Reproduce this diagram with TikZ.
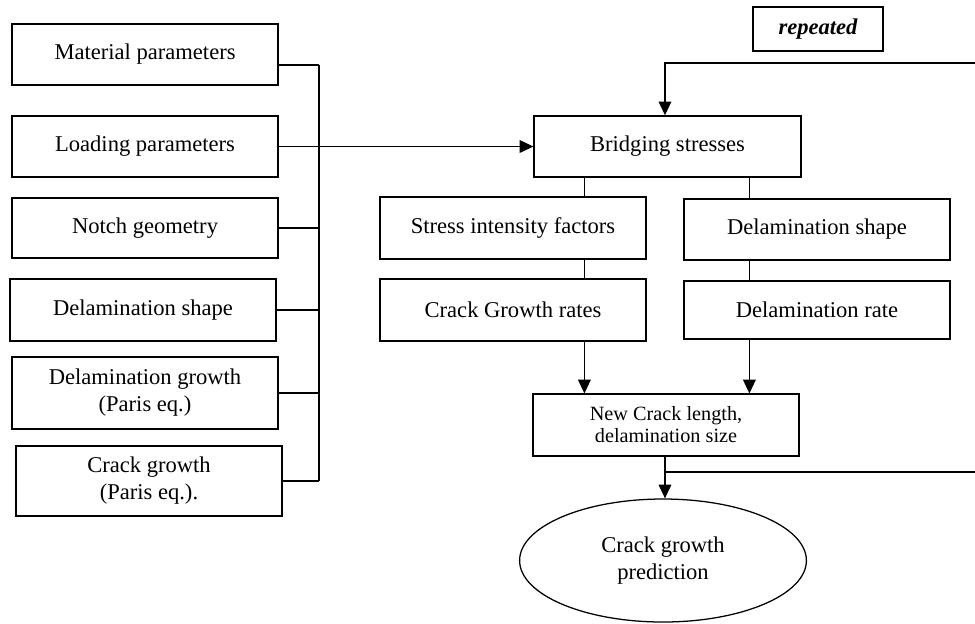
\documentclass[tikz,border=0pt]{standalone}
\usepackage{fontspec}
\setmainfont{Liberation Serif}
\usepackage{tikz}
\usetikzlibrary{arrows.meta,calc,shapes.geometric}

\begin{document}
\begin{tikzpicture}[>={Triangle[length=6.5pt,width=6pt]}, line width=0.6pt,
  font=\fontsize{10.7}{12.8}\selectfont,
  box/.style={draw, rectangle, minimum width=4.43cm, minimum height=1.02cm, inner sep=0pt, align=center}]
  \path[use as bounding box] (0,0) rectangle (16.25,-10.4);

  % Input parameters (left column)
  \foreach \name/\x/\y/\h/\txt in {
      mat/2.417/-0.908/1.02/{Material parameters},
      load/2.417/-2.442/1.02/{Loading parameters},
      notch/2.417/-3.8/1.0/{Notch geometry},
      dshape/2.383/-5.167/1.03/{Delamination shape},
      dgrowth/2.417/-6.55/1.2/{Delamination growth\\(Paris eq.)},
      cgrowth/2.483/-8.017/1.17/{Crack growth\\(Paris eq.).}} {
    \node[box, minimum height=\h cm] (\name) at (\x,\y) {\txt};
  }

  % Calculation steps
  \node[box, minimum width=4.45cm] (bridge) at (11.125,-2.442) {Bridging stresses};
  \node[box, minimum width=2.17cm, minimum height=0.73cm, font=\fontsize{10.7}{12.8}\selectfont\bfseries\itshape] (rep) at (13.633,-0.483) {repeated};
  \node[box, minimum height=1.03cm] (sif) at (8.55,-3.8) {Stress intensity factors};
  \node[box, minimum height=1.02cm] (dshapeR) at (13.617,-3.825) {Delamination shape};
  \node[box, minimum height=1.03cm] (cgrate) at (8.55,-5.167) {Crack Growth rates};
  \node[box, minimum height=0.97cm] (drate) at (13.617,-5.167) {Delamination rate};
  \node[box, minimum height=1.03cm, font=\fontsize{9.6}{10.5}\selectfont] (newlen) at (11.1,-7.083) {New Crack length,\\delamination size};
  \node[draw, ellipse, minimum width=4.78cm, minimum height=2.05cm, inner sep=0pt, align=center] (pred) at (11.05,-9.342) {Crack growth\\prediction};

  % Collecting bus for the inputs
  \coordinate (bustop) at (5.317,-1.083);
  \coordinate (busbot) at (5.317,-8.017);
  \draw (bustop) -- (busbot);
  \draw (mat.east |- bustop) -- (bustop);
  \foreach \name in {notch,dshape,dgrowth,cgrowth}
    \draw (\name.east) -- (\name.east -| bustop);
  \draw[->] (load.east) -- (bridge.west);

  % Links between the steps
  \coordinate (lkL) at (9.74,0);
  \coordinate (lkR) at (12.49,0);
  \draw (bridge.south -| lkL) -- (sif.north -| lkL);
  \draw (sif.south -| lkL) -- (cgrate.north -| lkL);
  \draw (bridge.south -| lkR) -- (dshapeR.north -| lkR);
  \draw (dshapeR.south -| lkR) -- (drate.north -| lkR);
  \draw[->] (cgrate.south -| lkL) -- (newlen.north -| lkL);
  \draw[->] (drate.south -| lkR) -- (newlen.north -| lkR);

  % Repeat loop
  \coordinate (loopX) at (11.083,0);
  \coordinate (loopA) at (16.25,-1.05);
  \coordinate (loopB) at (16.25,-7.867);
  \draw[->] (loopA) -- (loopA -| loopX) -- (bridge.north -| loopX);
  \draw[->] (newlen.south -| loopX) -- (pred.north -| loopX);
  \draw (loopB -| loopX) -- (loopB);

\end{tikzpicture}
\end{document}
